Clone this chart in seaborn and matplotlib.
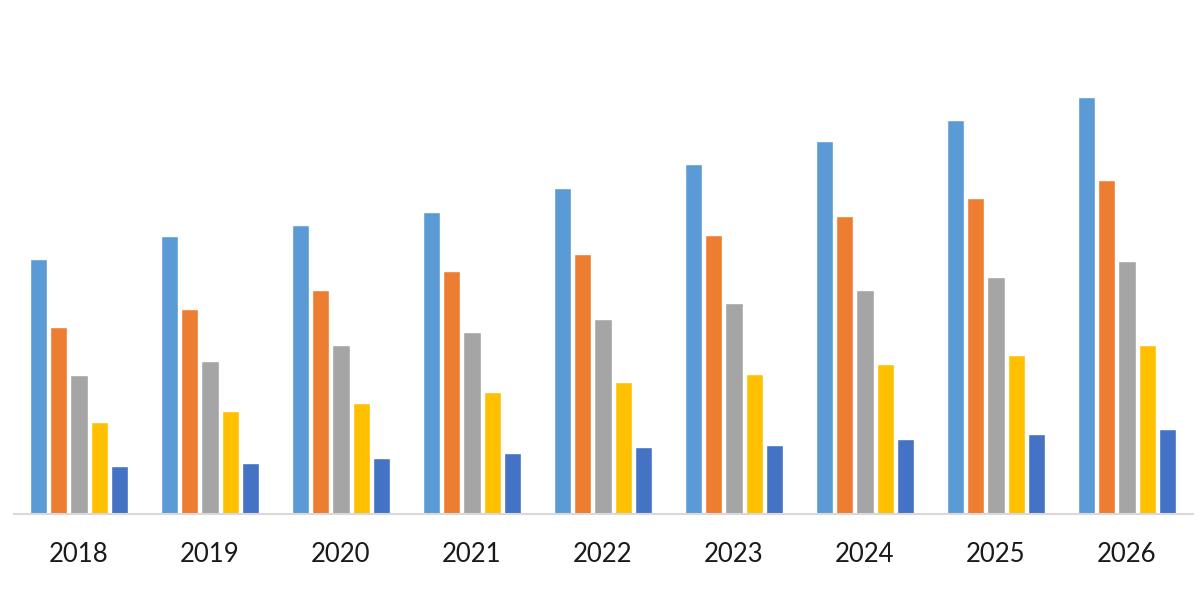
import matplotlib
matplotlib.use("Agg")
import matplotlib.pyplot as plt
import seaborn as sns
import pandas as pd

years = ["2018", "2019", "2020", "2021", "2022", "2023", "2024", "2025", "2026"]
series_names = ["Series 1", "Series 2", "Series 3", "Series 4", "Series 5"]
s1 = [25.5, 27.8, 28.9, 30.2, 32.6, 35.0, 37.3, 39.4, 41.7]
s2 = [18.7, 20.5, 22.4, 24.3, 26.0, 27.9, 29.8, 31.6, 33.4]
s3 = [13.9, 15.3, 16.9, 18.2, 19.5, 21.1, 22.4, 23.7, 25.3]
s4 = [9.2, 10.3, 11.1, 12.2, 13.2, 14.0, 15.0, 15.9, 16.9]
s5 = [4.8, 5.1, 5.6, 6.1, 6.7, 6.9, 7.5, 8.0, 8.5]
colors = ["#5B9BD5", "#ED7D31", "#A5A5A5", "#FFC000", "#4472C4"]

rows = []
for name, vals in zip(series_names, [s1, s2, s3, s4, s5]):
    for y, v in zip(years, vals):
        rows.append({"Year": y, "Series": name, "Value": v})
df = pd.DataFrame(rows)

sns.set_theme(style="white")
plt.rcParams["font.family"] = ["Lato", "DejaVu Sans"]

fig = plt.figure(figsize=(12, 6), dpi=100)
ax = fig.add_axes([13.5 / 1200, 86 / 600, 1179 / 1200, 474 / 600])
sns.barplot(data=df, x="Year", y="Value", hue="Series", order=years,
            hue_order=series_names, palette=colors, width=0.77, gap=0.15,
            saturation=1, legend=False, ax=ax)
ax.set_xlim(-0.5, len(years) - 0.5)
ax.set_ylim(0, 47.4)
ax.set_xlabel("")
ax.set_ylabel("")
ax.set_yticks([])
for sp in ["top", "right", "left"]:
    ax.spines[sp].set_visible(False)
ax.spines["bottom"].set_color("#D9D9D9")
ax.spines["bottom"].set_linewidth(1.5)
ax.tick_params(axis="x", length=0, pad=20, labelsize=18.5, labelcolor="#1a1a1a")
fig.savefig("out.png", dpi=100)
